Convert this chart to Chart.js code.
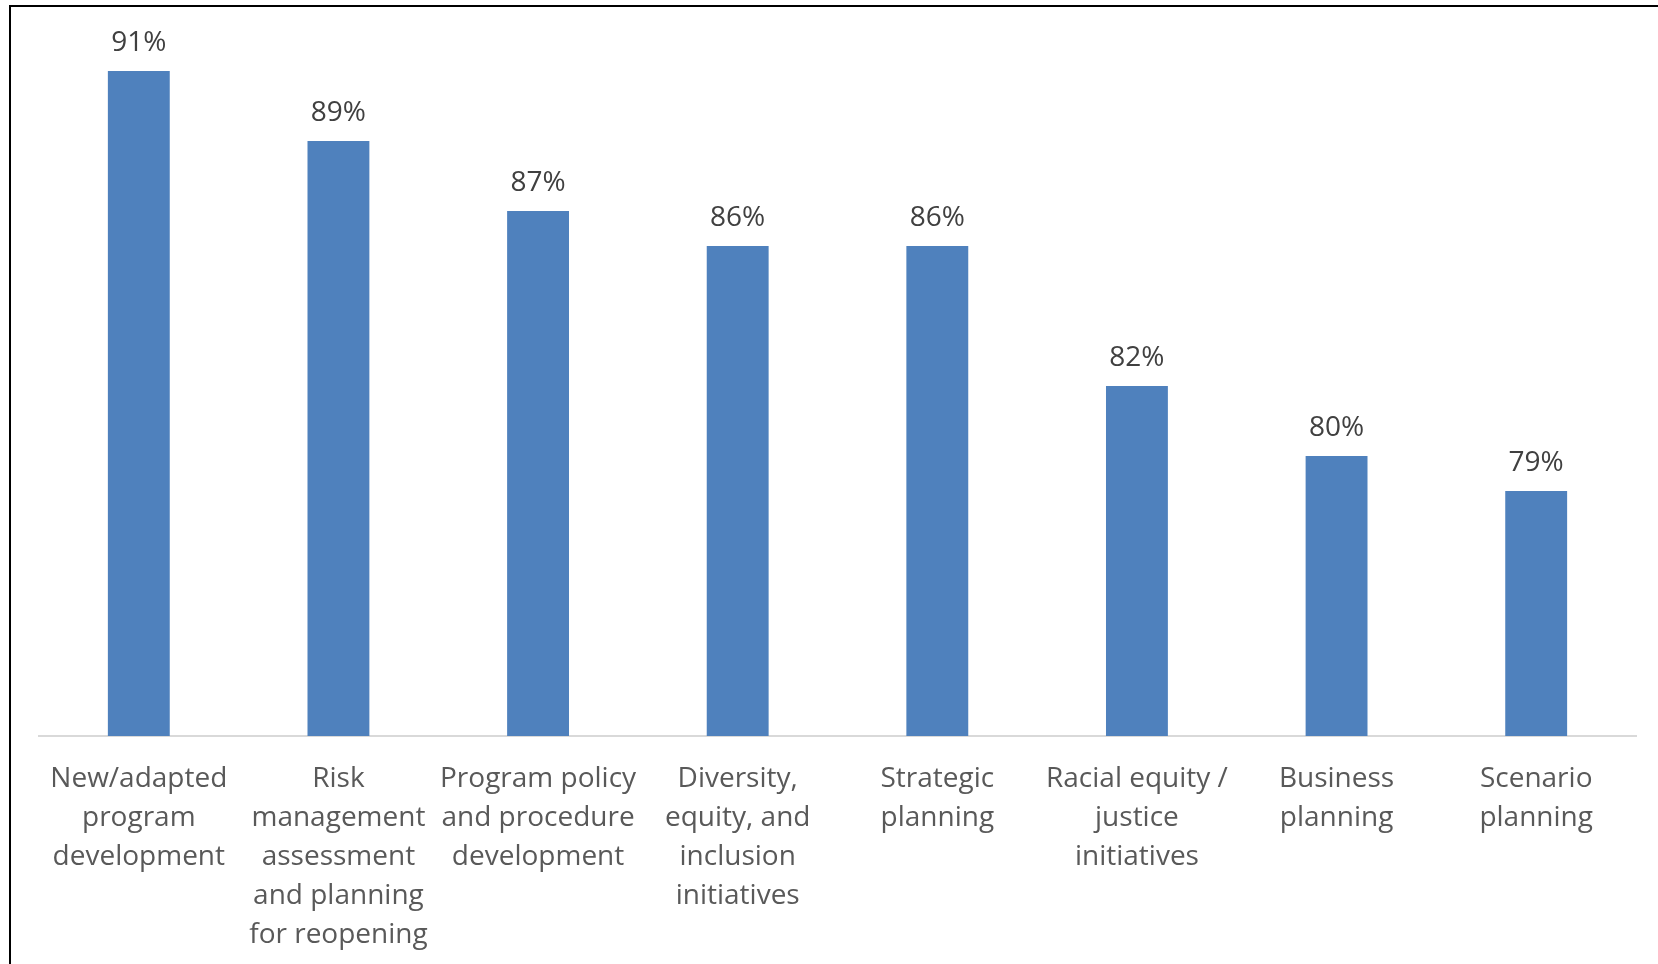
<!DOCTYPE html>
<html>
<head>
<meta charset="utf-8">
<script src="https://cdn.jsdelivr.net/npm/chart.js@4"></script>
<style>
    html, body { margin: 0; padding: 0; background: #fff; }
    #wrap { position: relative; width: 1658px; height: 964px; overflow: hidden; }
    #frame {
        position: absolute; left: 9px; top: 5px; width: 1700px; height: 1000px;
        border-top: 2px solid #000; border-left: 2px solid #000;
        pointer-events: none;
    }
    canvas { position: absolute; left: 0; top: 0; }
</style>
</head>
<body>
<div id="wrap">
    <canvas id="chart" width="1658" height="964"></canvas>
    <div id="frame"></div>
</div>
<script>
'use strict';

const categories = [
    ['New/adapted', 'program', 'development'],
    ['Risk', 'management', 'assessment', 'and planning', 'for reopening'],
    ['Program policy', 'and procedure', 'development'],
    ['Diversity,', 'equity, and', 'inclusion', 'initiatives'],
    ['Strategic', 'planning'],
    ['Racial equity /', 'justice', 'initiatives'],
    ['Business', 'planning'],
    ['Scenario', 'planning']
];

const percentValues = [91, 89, 87, 86, 86, 82, 80, 79];

const axisMin = 72;
const axisMax = 92;

/**
 * Draws the "91%" style labels above the bars.
 */
const valueLabels = {
    id: 'valueLabels',
    afterDatasetsDraw(chart) {
        const ctx = chart.ctx;
        const meta = chart.getDatasetMeta(0);
        ctx.save();
        ctx.font = '28px "Open Sans"';
        ctx.fillStyle = '#404040';
        ctx.textAlign = 'center';
        ctx.textBaseline = 'alphabetic';
        meta.data.forEach((bar, i) => {
            ctx.fillText(percentValues[i] + '%', bar.x, bar.y - 20);
        });
        ctx.restore();
    }
};

new Chart(document.getElementById('chart'), {
    type: 'bar',
    data: {
        labels: categories,
        datasets: [
            {
                data: percentValues,
                backgroundColor: '#4f81bd',
                borderWidth: 0,
                categoryPercentage: 1,
                barPercentage: 0.31
            }
        ]
    },
    options: {
        responsive: false,
        animation: false,
        layout: {
            padding: { left: 39, right: 22, top: 36, bottom: 0 }
        },
        plugins: {
            legend: { display: false },
            tooltip: { enabled: false }
        },
        scales: {
            x: {
                grid: { display: false, drawTicks: false },
                border: { display: true, color: '#d9d9d9', width: 2 },
                ticks: {
                    autoSkip: false,
                    maxRotation: 0,
                    padding: 23,
                    color: '#595959',
                    font: { family: '"Open Sans"', size: 28, lineHeight: 1.4 }
                },
                afterFit(scale) {
                    scale.height = 228;
                }
            },
            y: {
                display: false,
                min: axisMin,
                max: axisMax
            }
        }
    },
    plugins: [valueLabels]
});
</script>
</body>
</html>
